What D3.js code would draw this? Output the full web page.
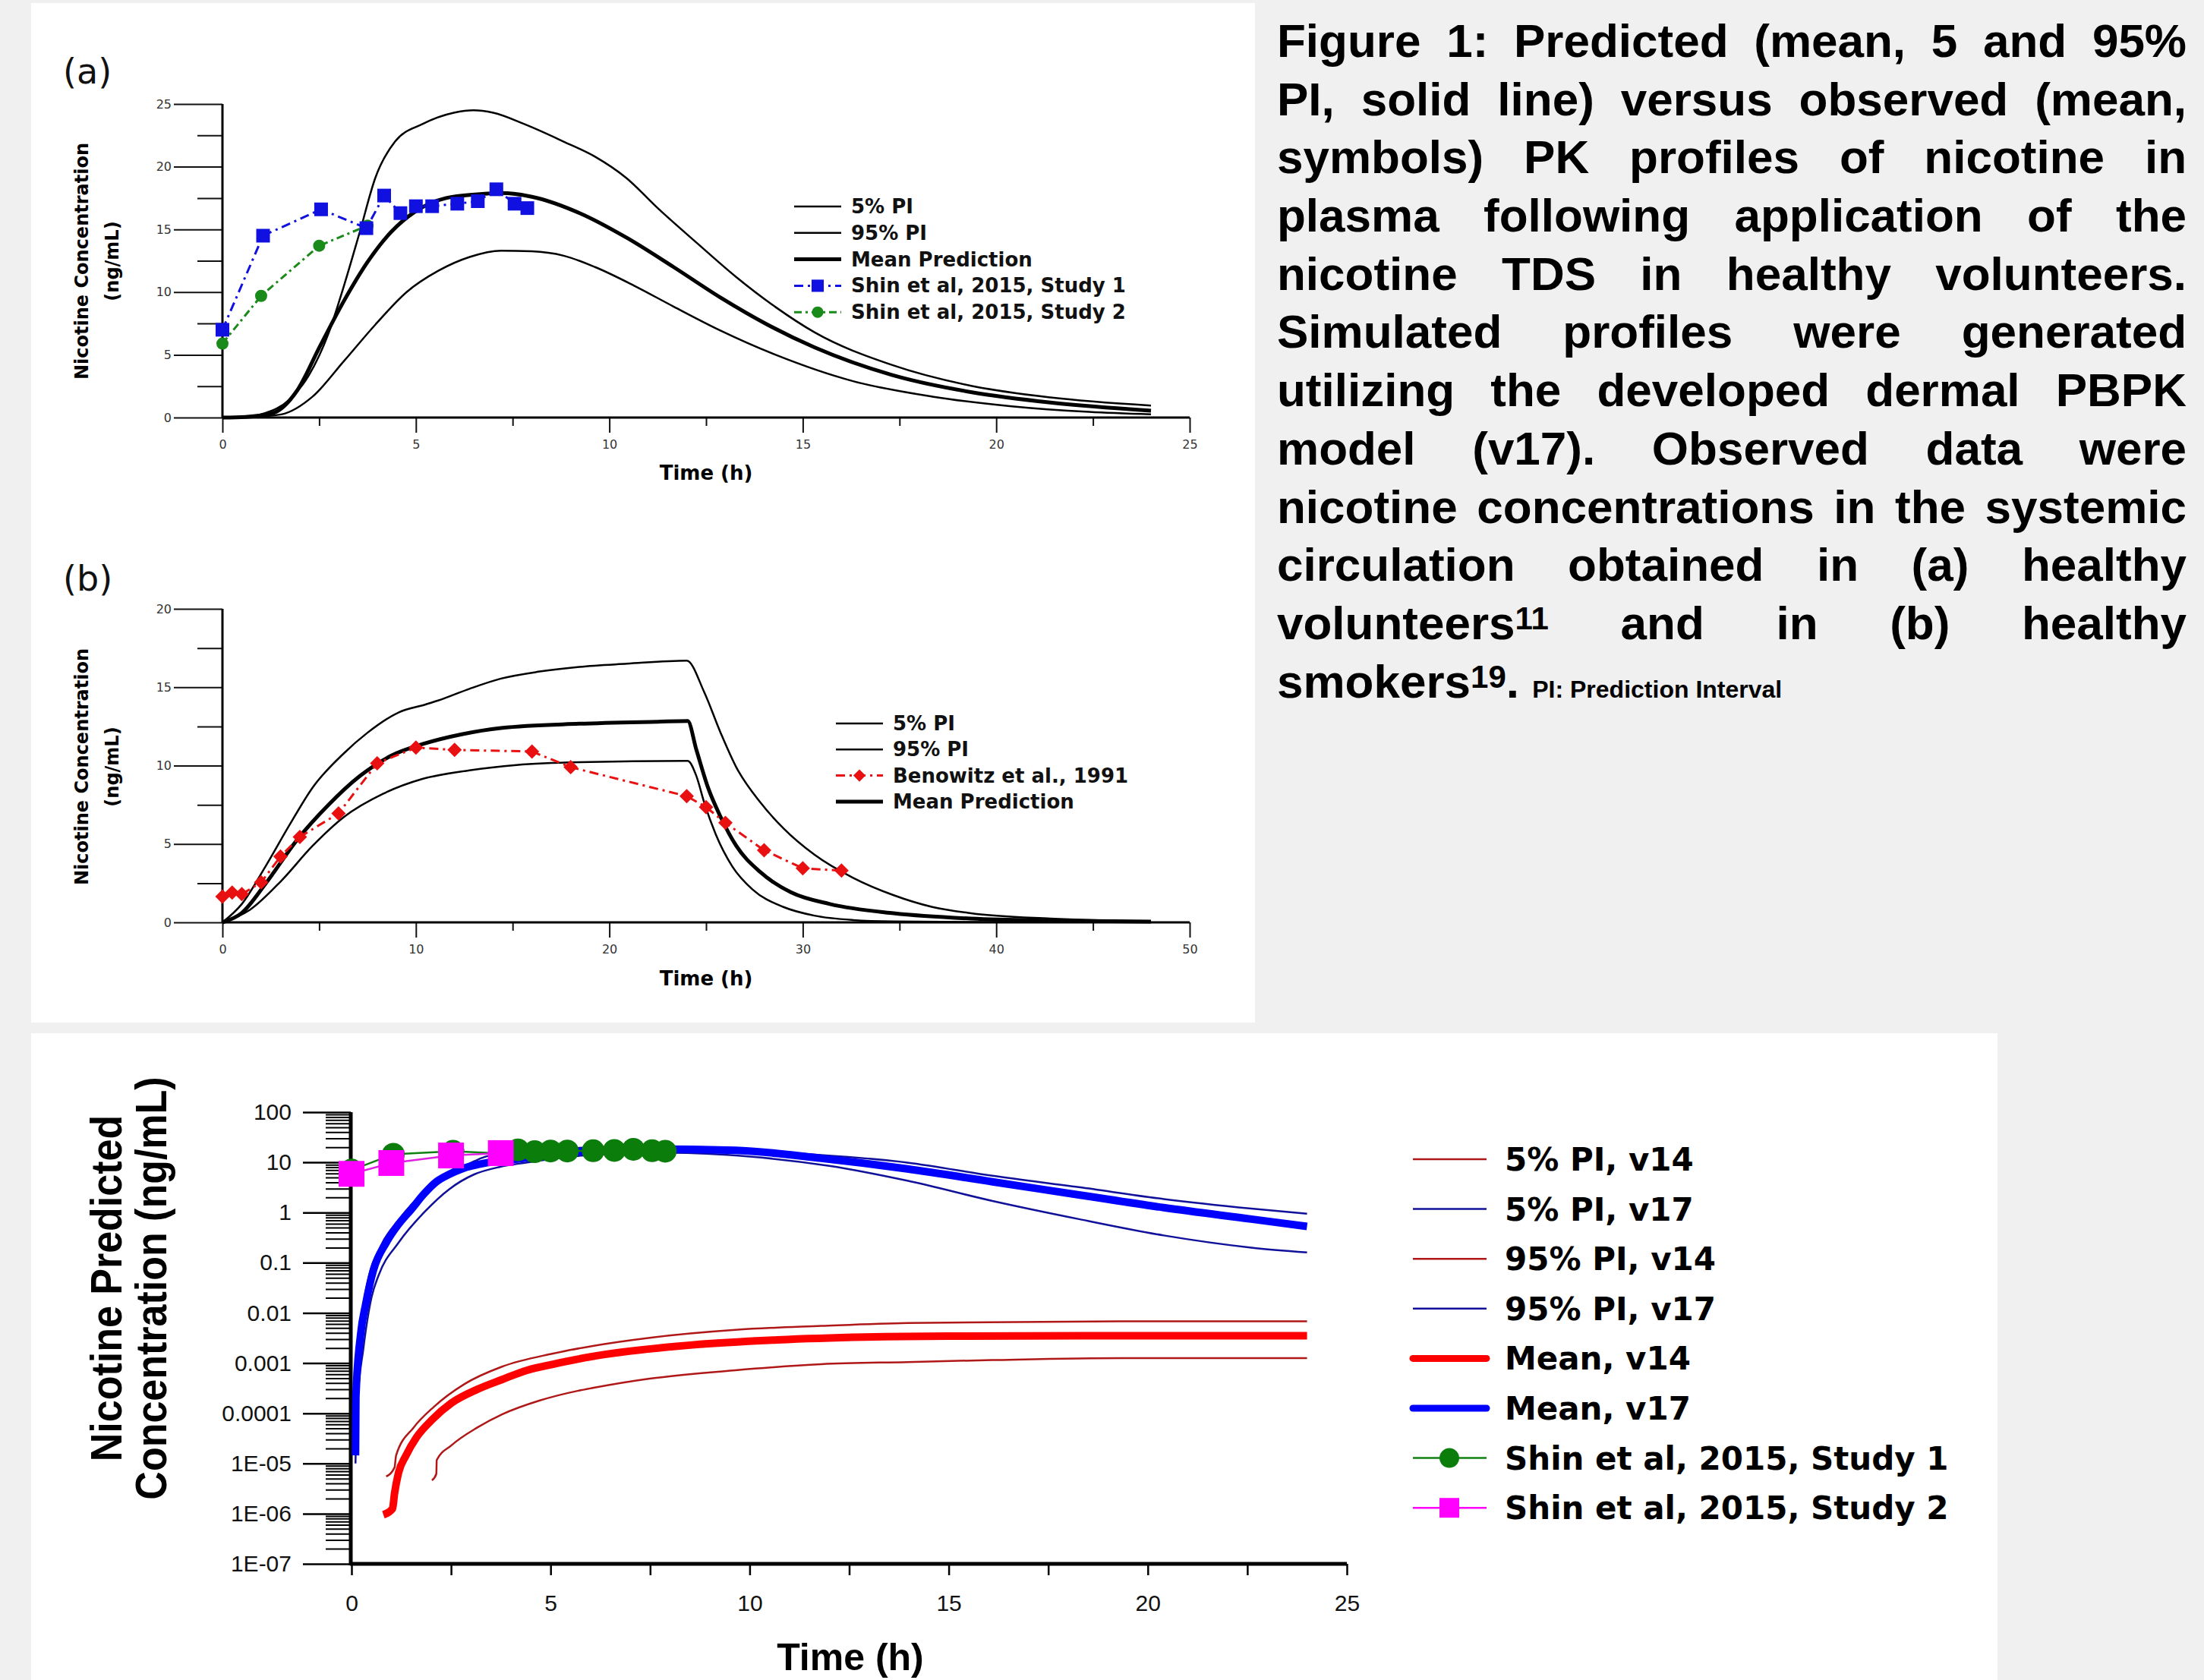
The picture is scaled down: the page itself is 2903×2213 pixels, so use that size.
<!DOCTYPE html>
<html>
<head>
<meta charset="utf-8">
<script src="https://d3js.org/d3.v7.min.js"></script>
<style>
  body { margin: 0; background: #f0f0f0; width: 2903px; height: 2213px; overflow: hidden; position: relative; }
  svg { position: absolute; left: 0; top: 0; }
  .caption { position: absolute; left: 1682px; top: 16px; width: 1198px;
    font-family: "Liberation Sans", Arial, sans-serif; font-weight: bold; font-size: 62px;
    line-height: 76.7px; color: #000; }
  .caption div { text-align: justify; text-align-last: justify; height: 76.7px; }
  .caption div:last-child { text-align-last: left; }
  .caption sup { font-size: 42px; vertical-align: baseline; position: relative; top: -13px; line-height: 0; }
  .caption .note { font-size: 32px; }
</style>
</head>
<body>
<script>
// ---------- data ----------

// panel (a): healthy volunteers, 0-24 h, ng/mL
var aPI5  = [[0,0],[0.8,0.05],[1.52,0.25],[2.33,1.67],[3.14,4.5],[3.95,7.4],[4.76,10.0],[5.58,11.7],[6.39,12.8],[7.2,13.3],[8.0,13.25],[8.82,12.9],[9.63,12.0],[10.65,10.5],[11.66,8.85],[12.87,6.94],[14.3,5.0],[16.3,2.9],[18.35,1.67],[20.4,0.9],[22.4,0.45],[24,0.25]];
var aPI95 = [[0,0],[0.6,0.05],[1.1,0.35],[1.72,1.4],[2.23,3.35],[2.74,6.7],[3.14,10.5],[3.55,14.8],[3.95,19.1],[4.46,22.0],[5.17,23.4],[5.98,24.3],[6.49,24.5],[7.0,24.3],[7.8,23.4],[8.82,22.0],[9.63,20.8],[10.44,19.1],[11.25,16.7],[12.27,13.9],[13.28,11.2],[14.3,8.8],[15.3,6.8],[17.3,4.2],[19.4,2.5],[21.4,1.6],[24,0.95]];
var aMean = [[0,0],[0.6,0.05],[1.3,0.35],[1.93,2.15],[2.53,5.74],[3.14,9.3],[3.75,12.4],[4.36,14.8],[4.97,16.4],[5.78,17.5],[6.59,17.8],[7.2,17.9],[8.0,17.6],[9.23,16.3],[10.44,14.35],[11.66,12.0],[12.87,9.57],[14.09,7.4],[15.3,5.6],[17.3,3.4],[19.4,2.0],[21.4,1.2],[24,0.55]];
var shin1Time = [0,1.05,2.55,3.72,4.18,4.6,5.0,5.42,6.07,6.6,7.08,7.55,7.88];
var shin1Conc = [7.0,14.5,16.6,15.1,17.7,16.3,16.85,16.85,17.05,17.25,18.2,17.05,16.7];
var shin2Time = [0,1,2.5,3.75];
var shin2Conc = [5.9,9.7,13.7,15.3];

// panel (b): healthy smokers, 0-48 h, ng/mL
var bPI5  = [[0,0],[1.42,0.8],[3.04,2.65],[4.66,4.88],[6.29,6.73],[8.3,8.2],[10.34,9.15],[12.77,9.7],[15.2,10.04],[18.45,10.22],[24.05,10.3],[24.5,9.33],[24.9,7.66],[25.5,5.62],[26.35,3.58],[27.4,2.1],[29.0,0.98],[30.6,0.43],[32.6,0.15],[34.7,0.06],[40,0.02],[48,0.01]];
var bPI95 = [[0,0],[1.0,1.17],[2.23,3.58],[3.45,6.18],[4.66,8.6],[6.29,10.8],[7.5,12.1],[9.12,13.4],[10.5,13.9],[11.15,14.15],[12.77,14.9],[14.4,15.55],[16.4,16.0],[18.45,16.3],[20.9,16.5],[24.0,16.7],[24.9,14.7],[25.75,12.1],[26.56,9.9],[27.8,7.66],[29.0,6.0],[30.6,4.32],[32.6,2.84],[34.7,1.73],[36.7,0.98],[38.7,0.58],[42.8,0.24],[48,0.06]];
var bMean = [[0,0],[1,0.6],[2.23,2.47],[3.85,5.25],[5.47,7.48],[7.1,9.33],[8.72,10.63],[10.34,11.37],[12.37,12.0],[14.4,12.4],[18.45,12.67],[22.5,12.8],[24.05,12.84],[24.5,11.0],[25.1,8.6],[25.75,6.73],[26.56,4.88],[27.8,3.21],[29.4,1.91],[31.4,1.17],[34.7,0.58],[38.7,0.24],[42.8,0.11],[48,0.05]];
var benowitzTime = [0,0.5,1,2,3,4,6,8,10,12,16,18,24,25,26,28,30,32];
var benowitzConc = [1.65,1.9,1.8,2.55,4.2,5.45,6.95,10.15,11.15,11.0,10.9,9.9,8.05,7.35,6.35,4.6,3.45,3.3];

// bottom panel: v14 vs v17, log scale, ng/mL
var v17Mean = [[0.1,1.45e-5],[0.11,2.1e-4],[0.23,3.8e-3],[0.36,0.0155],[0.55,0.071],[0.87,0.25],[1.18,0.58],[1.5,1.15],[1.82,2.35],[2.13,4.1],[2.45,5.75],[2.77,7.4],[3.4,9.8],[4.03,11.2],[5.33,15.5],[7.49,18.5],[9.64,17.4],[11.8,12.0],[13.96,7.4],[16.1,4.1],[18.27,2.25],[20.4,1.25],[22.6,0.74],[24,0.53]];
var v17PI95 = [[0.1,2e-5],[0.12,5e-4],[0.25,8e-3],[0.4,0.04],[0.74,0.22],[1.18,0.71],[1.82,2.57],[2.45,5.75],[3.08,10.5],[3.4,13.2],[5,18],[7,20.5],[9,19.5],[11,15.5],[13.96,9.9],[16.1,5.4],[18.27,3.2],[20.4,1.86],[22.6,1.2],[24,0.95]];
var v17PI5  = [[0.1,1e-5],[0.13,1e-4],[0.3,2e-3],[0.5,0.02],[0.68,0.056],[1.18,0.25],[1.82,1.0],[2.45,2.9],[3.08,5.75],[3.72,8.1],[4.35,9.8],[6,14],[8,15.5],[10,13],[12,8.5],[13.96,4.3],[16.1,1.7],[18.27,0.74],[20.4,0.35],[22.6,0.2],[24,0.16]];
var v14Mean = [[0.8,9.5e-7],[1.03,1.26e-6],[1.08,2.5e-6],[1.18,6.5e-6],[1.37,1.45e-5],[1.63,3.3e-5],[2.02,7.4e-5],[2.51,1.6e-4],[3.16,3.0e-4],[3.78,4.7e-4],[4.41,7.2e-4],[5.06,9.5e-4],[5.68,1.2e-3],[6.4,1.5e-3],[8.56,2.3e-3],[10.7,2.9e-3],[12.9,3.3e-3],[15,3.45e-3],[19,3.5e-3],[24,3.5e-3]];
var v14PI95 = [[0.87,5.5e-6],[1.08,8.3e-6],[1.12,1.45e-5],[1.56,5.2e-5],[2.07,1.35e-4],[2.83,3.8e-4],[3.78,8.5e-4],[5.06,1.55e-3],[6.06,2.2e-3],[7.49,3.2e-3],[9.64,4.6e-3],[11.8,5.5e-3],[13.96,6.3e-3],[19.35,6.8e-3],[24,6.8e-3]];
var v14PI5  = [[2.02,4.6e-6],[2.13,6.2e-6],[2.14,1.17e-5],[2.51,2.3e-5],[3.16,5.2e-5],[3.78,9.5e-5],[4.73,1.8e-4],[5.68,2.8e-4],[6.06,3.2e-4],[7.49,4.9e-4],[9.64,7.2e-4],[11.8,9.5e-4],[13.96,1.05e-3],[16.1,1.15e-3],[19.35,1.26e-3],[24,1.26e-3]];

var logTickValues = [1e-7,1e-6,1e-5,1e-4,1e-3,1e-2,0.1,1,10,100];
var logTickLabels = ["1E-07","1E-06","1E-05","0.0001","0.001","0.01","0.1","1","10","100"];

var captionLines = [
  "Figure 1: Predicted (mean, 5 and 95%",
  "PI, solid line) versus observed (mean,",
  "symbols) PK profiles of nicotine in",
  "plasma following application of the",
  "nicotine TDS in healthy volunteers.",
  "Simulated profiles were generated",
  "utilizing the developed dermal PBPK",
  "model (v17). Observed data were",
  "nicotine concentrations in the systemic",
  "circulation obtained in (a) healthy",
  "volunteers<sup>11</sup> and in (b) healthy",
  "smokers<sup>19</sup>. <span class=\"note\">PI: Prediction Interval</span>"
];

function zip(t, c) { return t.map(function(d, i) { return [d, c[i]]; }); }

var DEJA = "'DejaVu Sans', Verdana, sans-serif";
var LIB = "'Liberation Sans', Arial, sans-serif";

var svg = d3.select("body").append("svg")
  .attr("width", 2903)
  .attr("height", 2213);

// white boards
svg.append("rect").attr("x", 41).attr("y", 4).attr("width", 1612).attr("height", 1343).attr("fill", "#fff");
svg.append("rect").attr("x", 41).attr("y", 1361).attr("width", 2590).attr("height", 852).attr("fill", "#fff");

// ---------- panels (a) and (b) ----------
function linearPanel(p) {
  var g = svg.append("g");
  var x = d3.scaleLinear().domain([0, p.xMax]).range([293, 1567]);
  var y = d3.scaleLinear().domain([0, p.yMax]).range([p.yBase, p.yTop]);

  function tidy(sel, w) {
    sel.attr("font-family", DEJA).attr("font-size", 16);
    sel.select(".domain").remove();
    sel.selectAll("line").attr("stroke", "#111").attr("stroke-width", w);
    sel.selectAll("text").attr("fill", "#333");
  }

  g.append("g").attr("transform", "translate(0," + p.yBase + ")")
    .call(d3.axisBottom(x).tickValues(p.xMinor).tickSize(11).tickFormat(""))
    .call(tidy, 2);
  g.append("g").attr("transform", "translate(0," + p.yBase + ")")
    .call(d3.axisBottom(x).tickValues(p.xMajor).tickSize(20).tickPadding(10))
    .call(tidy, 2);
  g.append("g").attr("transform", "translate(293,0)")
    .call(d3.axisLeft(y).tickValues(p.yMinor).tickSize(33).tickFormat(""))
    .call(tidy, 2);
  g.append("g").attr("transform", "translate(293,0)")
    .call(d3.axisLeft(y).tickValues(p.yMajor).tickSize(64).tickPadding(3))
    .call(tidy, 2);

  // axis lines
  g.append("line").attr("x1", x(0)).attr("x2", x(p.xMax)).attr("y1", y(0)).attr("y2", y(0))
    .attr("stroke", "#000").attr("stroke-width", 3);
  g.append("line").attr("x1", x(0)).attr("x2", x(0)).attr("y1", y(0)).attr("y2", y(p.yMax))
    .attr("stroke", "#000").attr("stroke-width", 3);

  // titles
  g.append("text").attr("x", (x(0) + x(p.xMax)) / 2).attr("y", p.xTitleY)
    .attr("text-anchor", "middle").attr("font-family", DEJA).attr("font-weight", "bold")
    .attr("font-size", 26).text("Time (h)");
  g.append("text").attr("transform", "translate(116," + p.yTitleCy + ") rotate(-90)")
    .attr("text-anchor", "middle").attr("font-family", DEJA).attr("font-weight", "bold")
    .attr("font-size", 24).text("Nicotine Concentration");
  g.append("text").attr("transform", "translate(156," + p.yTitleCy + ") rotate(-90)")
    .attr("text-anchor", "middle").attr("font-family", DEJA).attr("font-weight", "bold")
    .attr("font-size", 24).text("(ng/mL)");
  g.append("text").attr("x", 83).attr("y", p.tagY)
    .attr("font-family", DEJA).attr("font-size", 46).attr("fill", "#111").text(p.tag);

  var line = d3.line().x(function(d) { return x(d[0]); }).y(function(d) { return y(d[1]); })
    .curve(d3.curveMonotoneX);

  p.curves.forEach(function(c) {
    g.append("path").attr("d", line(c.data)).attr("fill", "none")
      .attr("stroke", "#000").attr("stroke-width", c.w);
  });

  p.obs.forEach(function(o) {
    g.append("path").attr("d", d3.line().x(function(d) { return x(d[0]); }).y(function(d) { return y(d[1]); })(o.data))
      .attr("fill", "none").attr("stroke", o.color).attr("stroke-width", 3)
      .attr("stroke-dasharray", o.dash);
    g.selectAll(null).data(o.data).join("path")
      .attr("transform", function(d) { return "translate(" + x(d[0]) + "," + y(d[1]) + ")" + (o.rot ? " rotate(45)" : ""); })
      .attr("d", d3.symbol().type(o.symbol).size(o.size))
      .attr("fill", o.color);
  });

  // legend
  var lg = g.append("g");
  p.legend.forEach(function(it, i) {
    var cy = p.legendY + i * p.legendStep;
    lg.append("line").attr("x1", p.legendX).attr("x2", p.legendX + 62).attr("y1", cy).attr("y2", cy)
      .attr("stroke", it.color).attr("stroke-width", it.w).attr("stroke-dasharray", it.dash || null);
    if (it.symbol) {
      lg.append("path").attr("transform", "translate(" + (p.legendX + 31) + "," + cy + ")" + (it.rot ? " rotate(45)" : ""))
        .attr("d", d3.symbol().type(it.symbol).size(it.size)).attr("fill", it.color);
    }
    lg.append("text").attr("x", p.legendX + 75).attr("y", cy + 9)
      .attr("font-family", DEJA).attr("font-weight", "bold").attr("font-size", 26)
      .attr("fill", "#111").text(it.label);
  });
}

linearPanel({
  tag: "(a)", tagY: 110,
  xMax: 25, yMax: 25, yBase: 550, yTop: 137,
  xMajor: [0, 5, 10, 15, 20, 25], xMinor: [2.5, 7.5, 12.5, 17.5, 22.5],
  yMajor: [0, 5, 10, 15, 20, 25], yMinor: [2.5, 7.5, 12.5, 17.5, 22.5],
  xTitleY: 632, yTitleCy: 344,
  curves: [{data: aPI5, w: 2.5}, {data: aPI95, w: 2.5}, {data: aMean, w: 5}],
  obs: [
    {data: zip(shin2Time, shin2Conc), color: "#1a8a1a", dash: "10,5,3,5", symbol: d3.symbolCircle, size: 200},
    {data: zip(shin1Time, shin1Conc), color: "#1010e0", dash: "12,6,3,6", symbol: d3.symbolSquare, size: 324}
  ],
  legendX: 1046, legendY: 272, legendStep: 34.8,
  legend: [
    {label: "5% PI", color: "#000", w: 2.5},
    {label: "95% PI", color: "#000", w: 2.5},
    {label: "Mean Prediction", color: "#000", w: 5},
    {label: "Shin et al, 2015, Study 1", color: "#1010e0", w: 3, dash: "12,6,3,6", symbol: d3.symbolSquare, size: 260},
    {label: "Shin et al, 2015, Study 2", color: "#1a8a1a", w: 3, dash: "10,5,3,5", symbol: d3.symbolCircle, size: 180}
  ]
});

linearPanel({
  tag: "(b)", tagY: 778,
  xMax: 50, yMax: 20, yBase: 1215, yTop: 802,
  xMajor: [0, 10, 20, 30, 40, 50], xMinor: [5, 15, 25, 35, 45],
  yMajor: [0, 5, 10, 15, 20], yMinor: [2.5, 7.5, 12.5, 17.5],
  xTitleY: 1298, yTitleCy: 1010,
  curves: [{data: bPI5, w: 2.5}, {data: bPI95, w: 2.5}, {data: bMean, w: 5}],
  obs: [
    {data: zip(benowitzTime, benowitzConc), color: "#e81010", dash: "12,6,3,6", symbol: d3.symbolSquare, size: 180, rot: true}
  ],
  legendX: 1101, legendY: 953, legendStep: 34.3,
  legend: [
    {label: "5% PI", color: "#000", w: 2.5},
    {label: "95% PI", color: "#000", w: 2.5},
    {label: "Benowitz et al., 1991", color: "#e81010", w: 3, dash: "12,6,3,6", symbol: d3.symbolSquare, size: 130, rot: true},
    {label: "Mean Prediction", color: "#000", w: 5}
  ]
});

// ---------- bottom panel: log scale ----------
var xC = d3.scaleLinear().domain([0, 25]).range([463, 1774]);
var yC = d3.scaleLog().domain([1e-7, 100]).range([2060, 1465]);

var minorLog = [];
d3.range(-7, 2).forEach(function(k) {
  d3.range(2, 10).forEach(function(m) { minorLog.push(m * Math.pow(10, k)); });
});

var gc = svg.append("g");

function tidyC(sel, w) {
  sel.attr("font-family", LIB).attr("font-size", 30);
  sel.select(".domain").remove();
  sel.selectAll("line").attr("stroke", "#000").attr("stroke-width", w);
  sel.selectAll("text").attr("fill", "#111");
}

gc.append("g").attr("transform", "translate(462,0)")
  .call(d3.axisLeft(yC).tickValues(minorLog).tickSize(33).tickFormat(""))
  .call(tidyC, 2);
gc.append("g").attr("transform", "translate(462,0)")
  .call(d3.axisLeft(yC).tickValues(logTickValues).tickSize(63).tickPadding(15)
    .tickFormat(function(d, i) { return logTickLabels[i]; }))
  .call(tidyC, 2.5);
gc.append("g").attr("transform", "translate(0,2060)")
  .call(d3.axisBottom(xC).tickValues([2.5, 7.5, 12.5, 17.5, 22.5]).tickSize(15).tickFormat(""))
  .call(tidyC, 2.5);
gc.append("g").attr("transform", "translate(0,2060)")
  .call(d3.axisBottom(xC).tickValues([0, 5, 10, 15, 20, 25]).tickSize(15).tickPadding(26))
  .call(tidyC, 2.5);

gc.append("line").attr("x1", xC(0) - 2).attr("x2", xC(25)).attr("y1", 2060).attr("y2", 2060)
  .attr("stroke", "#000").attr("stroke-width", 5);
gc.append("line").attr("x1", xC(0) - 1).attr("x2", xC(0) - 1).attr("y1", 2062).attr("y2", yC(100))
  .attr("stroke", "#000").attr("stroke-width", 5);

gc.append("text").attr("x", 1120).attr("y", 2200).attr("text-anchor", "middle")
  .attr("font-family", LIB).attr("font-weight", "bold").attr("font-size", 50).text("Time (h)");
gc.append("text").attr("transform", "translate(160,1697) scale(1.12,1) rotate(-90)")
  .attr("text-anchor", "middle").attr("font-family", LIB).attr("font-weight", "bold")
  .attr("font-size", 52).text("Nicotine Predicted");
gc.append("text").attr("transform", "translate(219,1697) scale(1.12,1) rotate(-90)")
  .attr("text-anchor", "middle").attr("font-family", LIB).attr("font-weight", "bold")
  .attr("font-size", 52).text("Concentration (ng/mL)");

var lineC = d3.line().x(function(d) { return xC(d[0]); }).y(function(d) { return yC(d[1]); })
  .curve(d3.curveMonotoneX);

var RED_THIN = "#b01818", BLUE_THIN = "#10109a";

function thick(data, color) {
  gc.append("path").attr("d", lineC(data)).attr("fill", "none")
    .attr("stroke", color).attr("stroke-width", 10).attr("stroke-linejoin", "round");
}
function thin(data, color) {
  gc.append("path").attr("d", lineC(data)).attr("fill", "none")
    .attr("stroke", color).attr("stroke-width", 2.5);
}

// thin bands first, the thick mean on top of them
thin(v14PI95, RED_THIN);
thin(v14PI5, RED_THIN);
thick(v14Mean, "#ff0000");
thin(v17PI95, BLUE_THIN);
thin(v17PI5, BLUE_THIN);
thick(v17Mean, "#0000ff");

// observed: in this panel Study 1 is green circles, Study 2 magenta squares
var s1 = zip(shin1Time, shin1Conc), s2 = zip(shin2Time, shin2Conc);
gc.append("path").attr("d", d3.line().x(function(d) { return xC(d[0]); }).y(function(d) { return yC(d[1]); })(s1))
  .attr("fill", "none").attr("stroke", "#108010").attr("stroke-width", 2.5);
gc.selectAll(null).data(s1).join("circle")
  .attr("cx", function(d) { return xC(d[0]); }).attr("cy", function(d) { return yC(d[1]); })
  .attr("r", 15).attr("fill", "#0b7d0b");
gc.append("path").attr("d", d3.line().x(function(d) { return xC(d[0]); }).y(function(d) { return yC(d[1]); })(s2))
  .attr("fill", "none").attr("stroke", "#e020e0").attr("stroke-width", 2.5);
gc.selectAll(null).data(s2).join("rect")
  .attr("x", function(d) { return xC(d[0]) - 17; }).attr("y", function(d) { return yC(d[1]) - 17; })
  .attr("width", 34).attr("height", 34).attr("fill", "#ff00ff");

// bottom legend
var legendC = [
  {label: "5% PI, v14", color: RED_THIN, w: 2.5},
  {label: "5% PI, v17", color: BLUE_THIN, w: 2.5},
  {label: "95% PI, v14", color: RED_THIN, w: 2.5},
  {label: "95% PI, v17", color: BLUE_THIN, w: 2.5},
  {label: "Mean, v14", color: "#ff0000", w: 9},
  {label: "Mean, v17", color: "#0000ff", w: 9},
  {label: "Shin et al, 2015, Study 1", color: "#108010", w: 2.5, mark: "circle"},
  {label: "Shin et al, 2015, Study 2", color: "#ff00ff", w: 2.5, mark: "square"}
];
var lgc = gc.append("g");
legendC.forEach(function(it, i) {
  var cy = 1527 + i * 65.6;
  lgc.append("line").attr("x1", 1861).attr("x2", 1958).attr("y1", cy).attr("y2", cy)
    .attr("stroke", it.color).attr("stroke-width", it.w).attr("stroke-linecap", it.w > 5 ? "round" : "butt");
  if (it.mark === "circle") {
    lgc.append("circle").attr("cx", 1909).attr("cy", cy).attr("r", 13).attr("fill", "#0b7d0b");
  } else if (it.mark === "square") {
    lgc.append("rect").attr("x", 1896).attr("y", cy - 13).attr("width", 26).attr("height", 26).attr("fill", "#ff00ff");
  }
  lgc.append("text").attr("x", 1982).attr("y", cy + 15)
    .attr("font-family", DEJA).attr("font-weight", "bold").attr("font-size", 42)
    .attr("fill", "#000").text(it.label);
});

// caption
d3.select("body").append("div").attr("class", "caption")
  .selectAll("div").data(captionLines).join("div")
  .html(function(d) { return d; });
</script>
</body>
</html>
